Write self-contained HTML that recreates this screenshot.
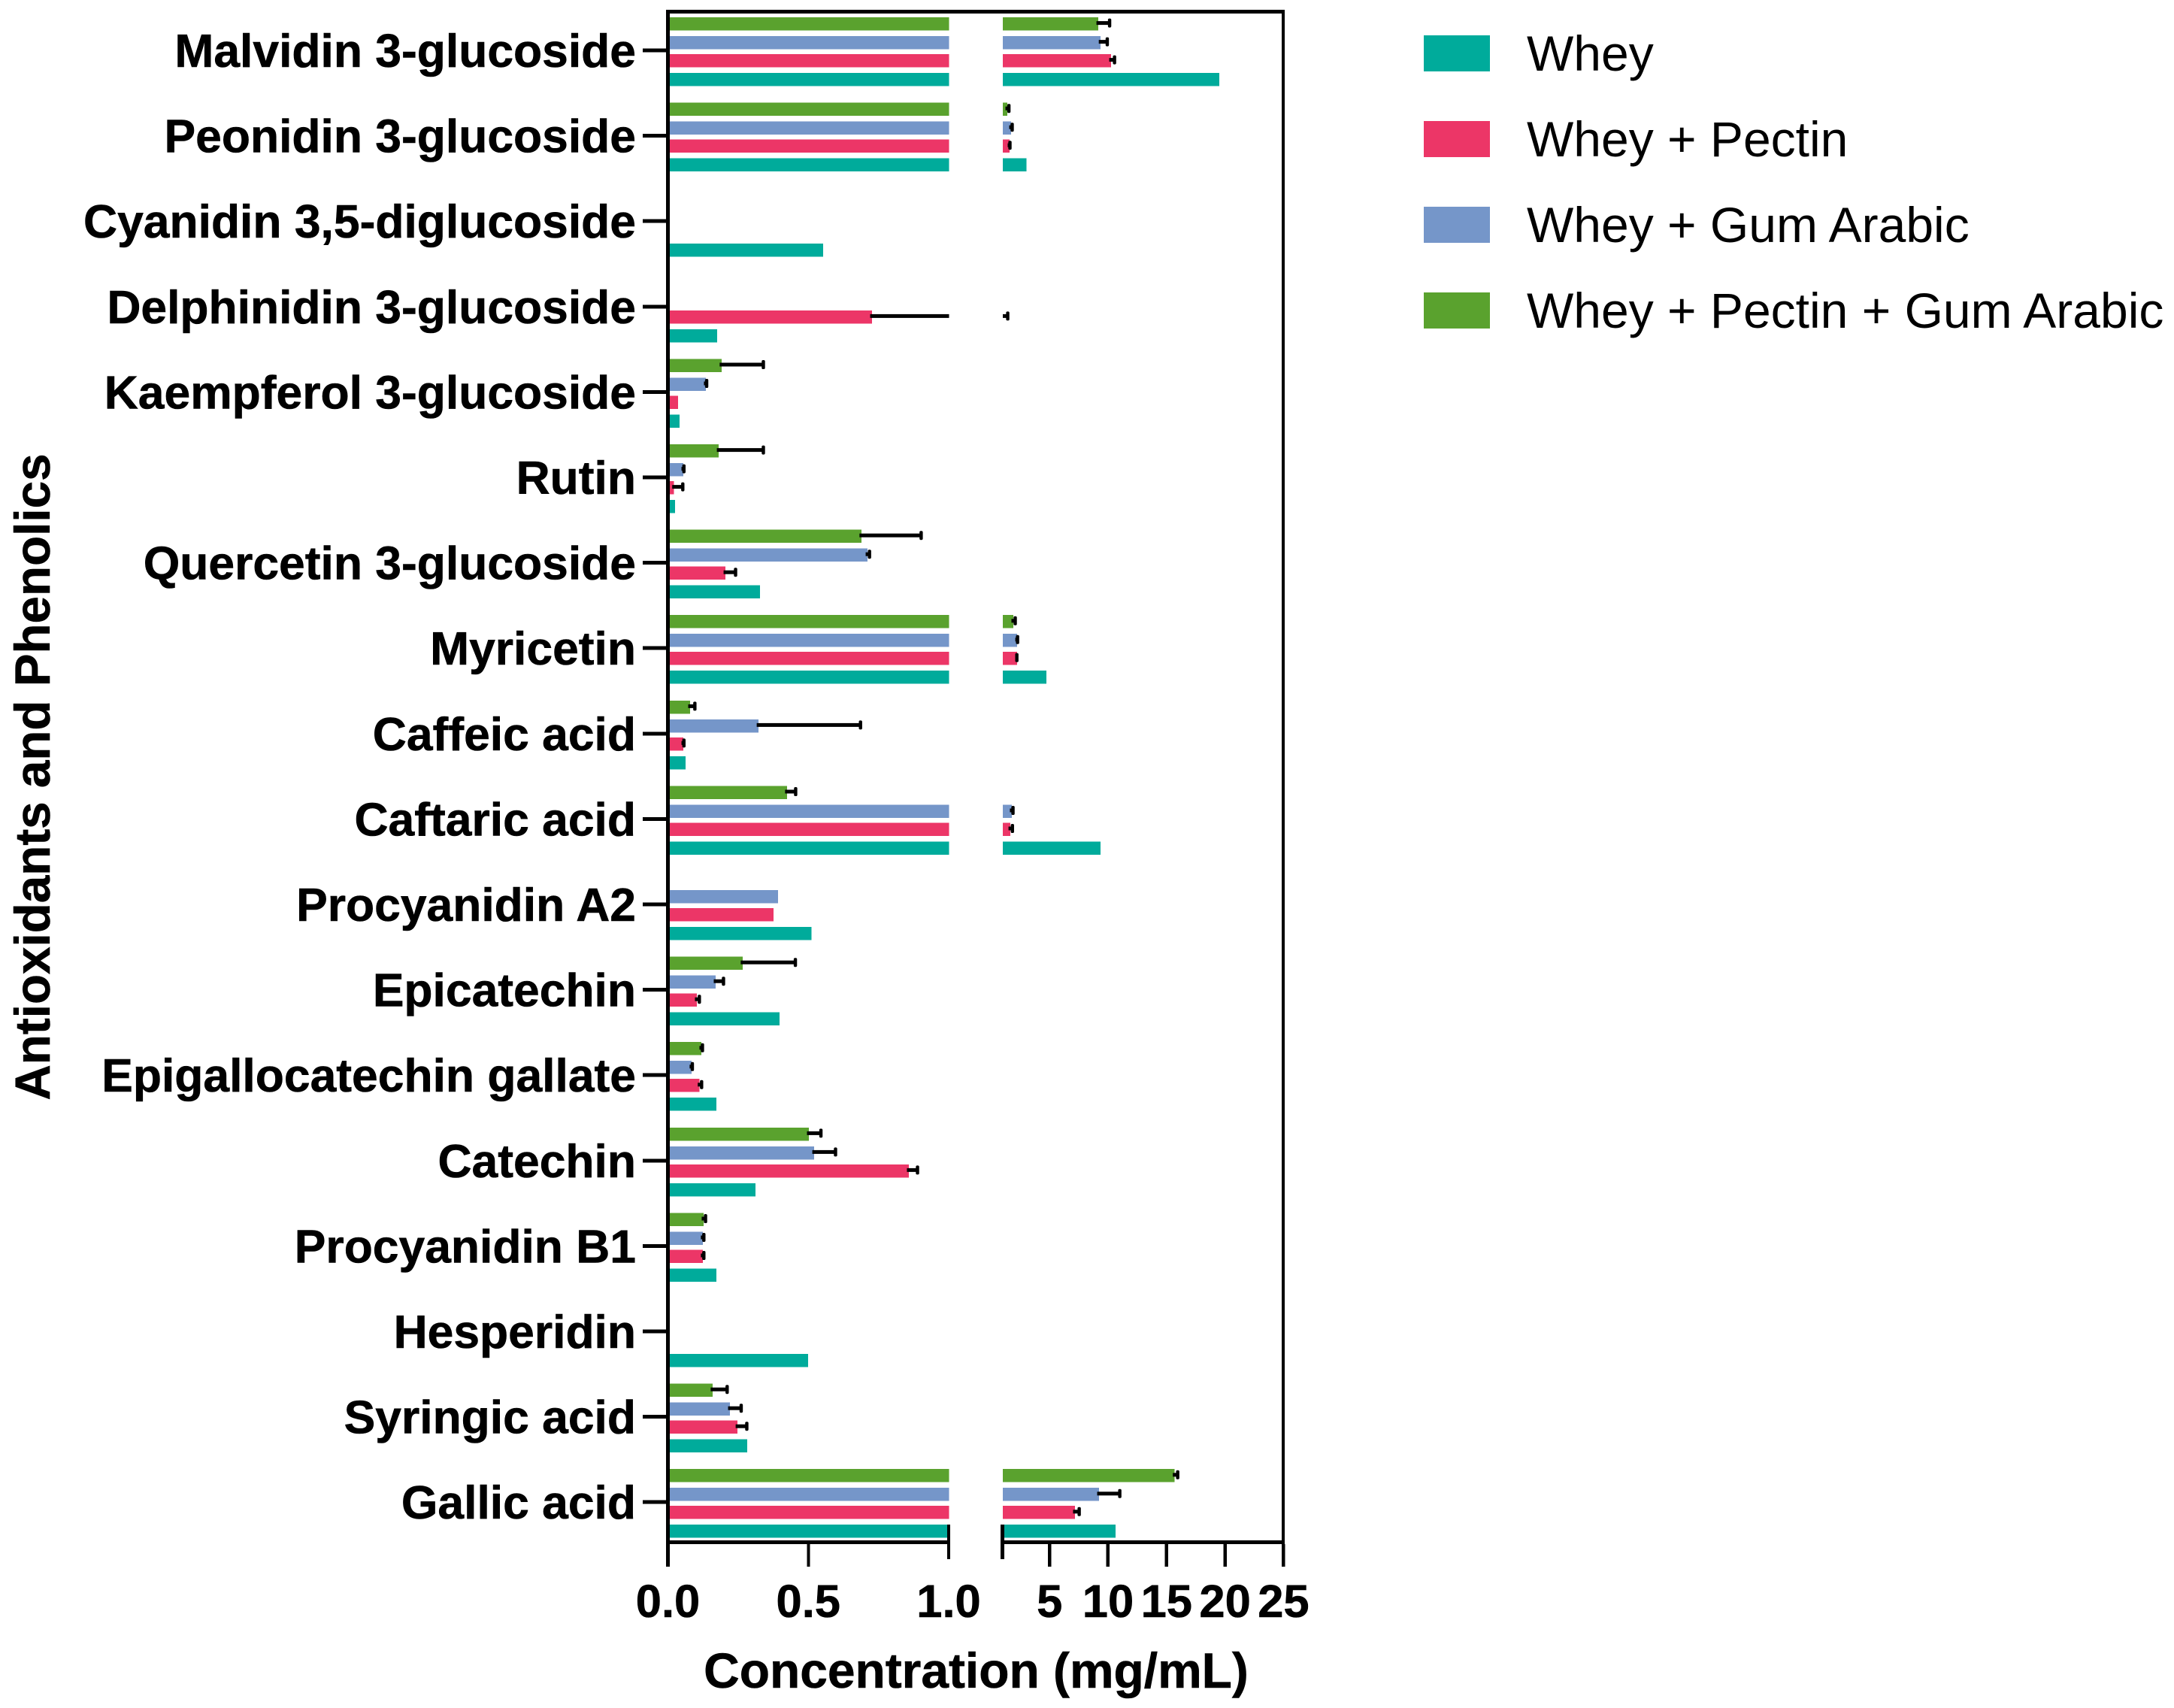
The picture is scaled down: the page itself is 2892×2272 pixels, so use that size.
<!DOCTYPE html>
<html lang="en">
<head>
<meta charset="utf-8">
<title>Antioxidants and Phenolics Concentration</title>
<style>
html,body{margin:0;padding:0;background:#fff;}
svg{display:block;}
text{font-family:"Liberation Sans",Arial,sans-serif;fill:#000;}
.bold{font-weight:700;stroke:#000;stroke-width:0.6px;}
</style>
</head>
<body>
<svg id="chart" xmlns="http://www.w3.org/2000/svg" width="2892" height="2272" viewBox="0 0 2892 2272">
  <rect x="0" y="0" width="2892" height="2272" fill="#ffffff"/>
  <g id="bars" shape-rendering="crispEdges"></g>
  <g id="errors"></g>
  <g id="axes" shape-rendering="crispEdges"></g>
  <g id="labels"></g>
  <text class="bold" x="1298.5" y="2245" font-size="65.9" text-anchor="middle">Concentration (mg/mL)</text>
  <text class="bold" transform="translate(66 1033.5) rotate(-90)" font-size="65.6" text-anchor="middle">Antioxidants and Phenolics</text>
  <g>
    <g>
      <rect x="1894" y="47" width="88" height="48" fill="#00AB9B"/>
      <text x="2031" y="94" font-size="66">Whey</text>
    </g>
    <g>
      <rect x="1894" y="161" width="88" height="48" fill="#EC3667"/>
      <text x="2031" y="208" font-size="66">Whey + Pectin</text>
    </g>
    <g>
      <rect x="1894" y="275" width="88" height="48" fill="#7596C9"/>
      <text x="2031" y="322" font-size="66">Whey + Gum Arabic</text>
    </g>
    <g>
      <rect x="1894" y="389" width="88" height="48" fill="#5AA22E"/>
      <text x="2031" y="436" font-size="66">Whey + Pectin + Gum Arabic</text>
    </g>
  </g>
</svg>
<script>
const categories = ["Malvidin 3-glucoside","Peonidin 3-glucoside","Cyanidin 3,5-diglucoside","Delphinidin 3-glucoside","Kaempferol 3-glucoside","Rutin","Quercetin 3-glucoside","Myricetin","Caffeic acid","Caftaric acid","Procyanidin A2","Epicatechin","Epigallocatechin gallate","Catechin","Procyanidin B1","Hesperidin","Syringic acid","Gallic acid"];

const wheyValues = [19.5,3.03,0.553,0.175,0.042,0.025,0.328,4.73,0.063,9.37,0.512,0.398,0.173,0.312,0.173,0.499,0.282,10.65];
const wheyPectinValues = [10.26,1.58,null,0.727,0.036,0.022,0.205,2.23,0.055,1.65,0.376,0.103,0.113,0.858,0.124,null,0.248,7.17];
const wheyPectinErrorTops = [10.65,1.71,null,1.52,null,0.057,0.245,2.30,0.061,1.92,null,0.116,0.124,0.893,0.132,null,0.285,7.63];
const wheyGumValues = [9.37,1.71,null,null,0.135,0.055,0.711,2.23,0.323,1.77,0.392,0.17,0.084,0.521,0.124,null,0.221,9.23];
const wheyGumErrorTops = [10.03,1.90,null,null,0.142,0.061,0.722,2.36,0.69,1.97,null,0.202,0.091,0.601,0.132,null,0.265,11.1];
const triBlendValues = [9.17,1.39,null,null,0.191,0.181,0.689,1.90,0.079,0.424,null,0.266,0.119,0.502,0.127,null,0.159,15.7];
const triBlendErrorTops = [10.23,1.62,null,null,0.344,0.344,0.906,2.16,0.10,0.459,null,0.458,0.127,0.549,0.138,null,0.215,16.05];

const lowTicks = [0,0.5,1];
const lowTickLabels = ["0.0","0.5","1.0"];
const highTicks = [5,10,15,20,25];
const highTickLabels = ["5","10","15","20","25"];

const NS = "http://www.w3.org/2000/svg";
const barsLayer = document.getElementById("bars");
const errorsLayer = document.getElementById("errors");
const axesLayer = document.getElementById("axes");
const labelsLayer = document.getElementById("labels");

function xLow(v){ return 888.5 + v * 373.5; }
function xHigh(v){ return 1318.4 + v * 15.56; }
function yCat(i){ return 67 + i * 113.6; }

const BREAK_VALUE = 1;
const BREAK_LEFT = xLow(1) + 0.5;
const BREAK_RIGHT = 1334;

function makeRect(parent, x, y, w, h, fill){
  const r = document.createElementNS(NS, "rect");
  r.setAttribute("x", x);
  r.setAttribute("y", y);
  r.setAttribute("width", Math.max(0, w));
  r.setAttribute("height", h);
  r.setAttribute("fill", fill);
  parent.appendChild(r);
  return r;
}

function drawBar(catIndex, seriesKey, offset, color, value){
  if (value === null) return;
  const top = yCat(catIndex) + offset;
  const endLow = value >= BREAK_VALUE ? BREAK_LEFT : xLow(value);
  const low = makeRect(barsLayer, 891, top, endLow - 891, 17.5, color);
  
  
  if (value > BREAK_VALUE){
    const high = makeRect(barsLayer, BREAK_RIGHT, top, xHigh(value) - BREAK_RIGHT, 17.5, color);
    
    
  }
}

function drawError(catIndex, seriesKey, offset, value, errorTop){
  if (value === null || errorTop === null) return;
  const cy = yCat(catIndex) + offset + 7.6;
  const start = value >= BREAK_VALUE ? xHigh(value) : xLow(value);
  const capX = (errorTop >= BREAK_VALUE ? xHigh(errorTop) : xLow(errorTop)) - 1.5;
  const lineH = 5;
  if (value < BREAK_VALUE && errorTop > BREAK_VALUE){
    const a = makeRect(errorsLayer, start - 2.5, cy - lineH / 2, BREAK_LEFT - start + 2.5, lineH, "#000");
    
    
    const b = makeRect(errorsLayer, BREAK_RIGHT, cy - lineH / 2, capX - BREAK_RIGHT, lineH, "#000");
    
    
  } else {
    const a = makeRect(errorsLayer, start - 2.5, cy - lineH / 2, capX - start + 2.5, lineH, "#000");
    
    
  }
  const cap = makeRect(errorsLayer, capX - 2.2, cy - 6, 4.4, 12, "#000");
  cap.setAttribute("rx", 1.8);
  
  
}

function drawLabel(x, y, text, anchor, size, nameValue){
  const t = document.createElementNS(NS, "text");
  t.setAttribute("x", x);
  t.setAttribute("y", y);
  t.setAttribute("text-anchor", anchor);
  t.setAttribute("font-size", size);
  t.setAttribute("class", "bold");
  t.textContent = text;
  
  
  labelsLayer.appendChild(t);
}

categories.forEach(function(name, i){
  drawBar(i, 'whey-pectin-gum-arabic', -44, "#5AA22E", triBlendValues[i]);
  drawBar(i, 'whey-gum-arabic', -19, "#7596C9", wheyGumValues[i]);
  drawBar(i, 'whey-pectin', 5, "#EC3667", wheyPectinValues[i]);
  drawBar(i, 'whey', 30, "#00AB9B", wheyValues[i]);
  drawError(i, 'whey-pectin-gum-arabic', -44, triBlendValues[i], triBlendErrorTops[i]);
  drawError(i, 'whey-gum-arabic', -19, wheyGumValues[i], wheyGumErrorTops[i]);
  drawError(i, 'whey-pectin', 5, wheyPectinValues[i], wheyPectinErrorTops[i]);
  const tick = makeRect(axesLayer, 855, yCat(i) - 2.5, 33, 5, "#000");
  
  
  drawLabel(846, yCat(i) + 22, name, "end", 62.4, 'y-axis-category-label');
});

const axisLeft = makeRect(axesLayer, 886, 13, 5, 2071, "#000");


const axisTop = makeRect(axesLayer, 886, 13, 823, 5, "#000");


const axisRight = makeRect(axesLayer, 1705, 13, 4, 2071, "#000");


const axisBottomLow = makeRect(axesLayer, 886, 2049, 378, 5, "#000");


const axisBottomHigh = makeRect(axesLayer, 1331, 2049, 378, 5, "#000");


const breakLeft = makeRect(axesLayer, 1260, 2028, 4, 46, "#000");


const breakRight = makeRect(axesLayer, 1331, 2028, 5, 46, "#000");



lowTicks.forEach(function(v, i){
  const x = xLow(v);
  if (v < BREAK_VALUE){
    const t = makeRect(axesLayer, x - 2, 2054, 4, 30, "#000");
    
    
  }
  drawLabel(x, 2151, lowTickLabels[i], "middle", 61.5, 'x-axis-tick-label');
});
highTicks.forEach(function(v, i){
  const x = xHigh(v);
  const t = makeRect(axesLayer, x - 2.3, 2054, 4.5, 30, "#000");
  
  
  drawLabel(x, 2151, highTickLabels[i], "middle", 61.5, 'x-axis-tick-label');
});
</script>
</body>
</html>
